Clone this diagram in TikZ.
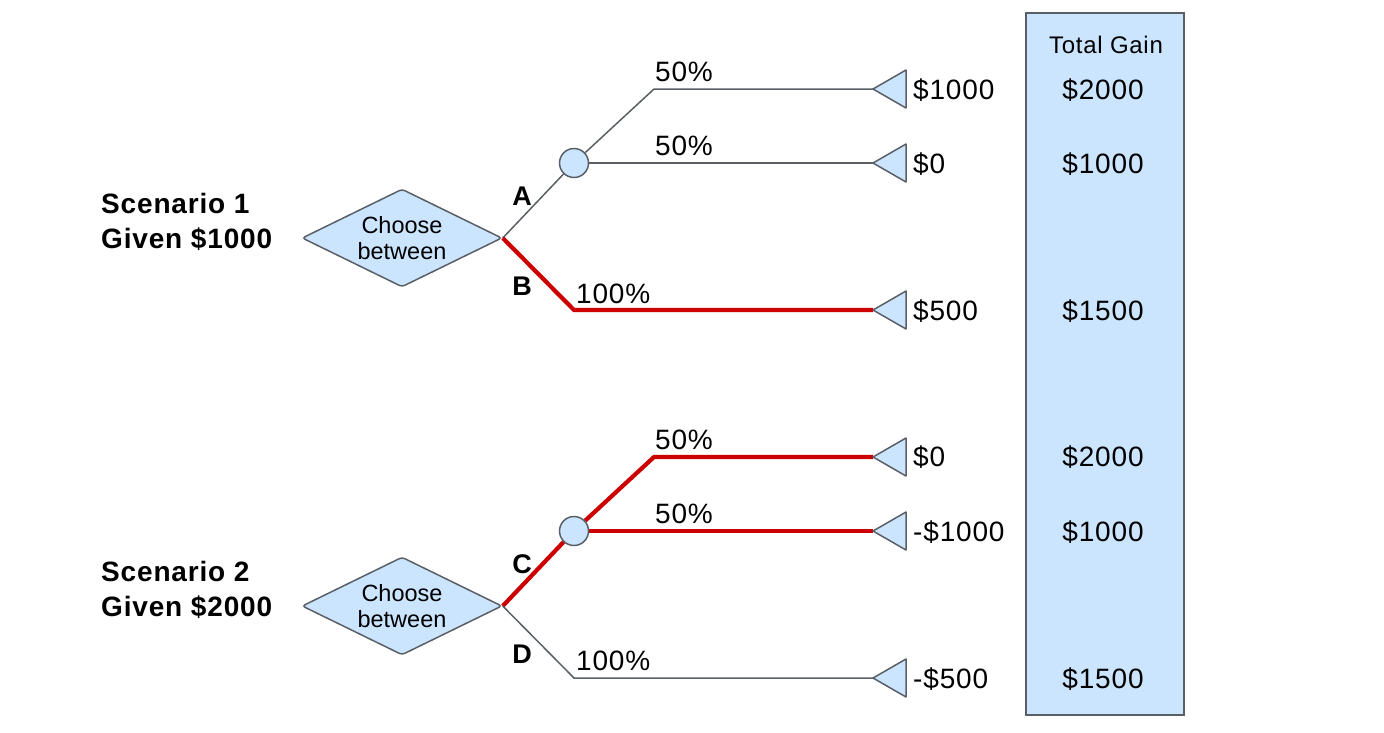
\documentclass[tikz,border=0pt]{standalone}
\usepackage{fontspec}
\setmainfont{Liberation Sans}
\newfontfamily\lsp[LetterSpace=3]{Liberation Sans}
\usetikzlibrary{shapes.geometric,backgrounds}
\definecolor{fillb}{HTML}{CCE5FF}
\definecolor{edgec}{HTML}{5A5F66}
\definecolor{redl}{HTML}{CC0000}
\tikzset{
  val/.style={anchor=base west, inner sep=0pt, font=\lsp\fontsize{28}{32}\selectfont},
  tot/.style={anchor=base, inner sep=0pt, font=\lsp\fontsize{28}{32}\selectfont},
  head/.style={anchor=base, inner sep=0pt, font=\lsp\fontsize{24}{28}\selectfont},
  pct/.style={anchor=base west, inner sep=0pt, font=\lsp\fontsize{28}{32}\selectfont},
  lett/.style={anchor=base, inner sep=0pt, font=\bfseries\fontsize{27}{30}\selectfont},
  scen/.style={anchor=base west, inner sep=0pt, font=\lsp\bfseries\fontsize{28}{32}\selectfont},
  choice/.style={diamond, draw=edgec, fill=fillb, line width=1.5, minimum width=200, minimum height=98, inner sep=0pt, aspect=2, rounded corners=3, align=center, font=\fontsize{23.5}{25.5}\selectfont},
  chance/.style={circle, draw=edgec, fill=fillb, line width=1.5, minimum size=29, inner sep=0pt},
  tri/.style={draw=edgec, fill=fillb, line width=1.5, line join=round},
  br/.style={draw=edgec, line width=1.5},
  hl/.style={draw=redl, line width=4.2},
  gbox/.style={draw=edgec, fill=fillb, line width=1.5, minimum width=158, minimum height=702, inner sep=0pt},
}
\begin{document}
\begin{tikzpicture}[x=1pt,y=-1pt]
\useasboundingbox (0,0) rectangle (1384,732);
% Total gain column
\node[gbox] (gain) at (1105,364) {};
\node[head] (gh) at (1106,53.5) {Total Gain};
% Scenario 1
\node[scen] (s1a) at (101,213.5) {Scenario 1};
\node[scen] (s1b) at (101,248.5) {Given \$1000};
\node[choice] (d1) at (402,238) {Choose\\between};
\node[chance] (c1) at (574,163) {};
\coordinate (k1) at (654,89);
\coordinate (k2) at (574,310);
\coordinate (t1) at (873,89);
\coordinate (t2) at (873,163);
\coordinate (t3) at (873,310);
% Scenario 2
\node[scen] (s2a) at (101,581.5) {Scenario 2};
\node[scen] (s2b) at (101,616.5) {Given \$2000};
\node[choice] (d2) at (402,606) {Choose\\between};
\node[chance] (c2) at (574,531) {};
\coordinate (k3) at (654,457);
\coordinate (k4) at (574,678);
\coordinate (t4) at (873,457);
\coordinate (t5) at (873,531);
\coordinate (t6) at (873,678);
\begin{pgfonlayer}{background}
\draw[br] (d1.east) -- (c1);
\draw[br] (c1) -- (k1) -- (t1);
\draw[br] (c1) -- (t2);
\draw[hl] (d1.east) -- (k2) -- (t3);
\draw[hl] (d2.east) -- (c2);
\draw[hl] (c2) -- (k3) -- (t4);
\draw[hl] (c2) -- (t5);
\draw[br] (d2.east) -- (k4) -- (t6);
\end{pgfonlayer}
% triangles
\foreach \tp in {t1,t2,t3,t4,t5,t6}{
  \draw[tri] (\tp) -- ++(33,-19) -- ++(0,38) -- cycle;
}
% branch letters
\node[lett] (la) at (522,205.5) {A};
\node[lett] (lb) at (522,295.5) {B};
\node[lett] (lc) at (522,573.5) {C};
\node[lett] (ld) at (522,663.5) {D};
% percentages
\node[pct] (p1) at (655,81.5) {50\%};
\node[pct] (p2) at (655,155.5) {50\%};
\node[pct] (p3) at (576,303.5) {100\%};
\node[pct] (p4) at (655,449.5) {50\%};
\node[pct] (p5) at (655,523.5) {50\%};
\node[pct] (p6) at (576,670.5) {100\%};
% outcomes
\node[val] (v1) at (913,99) {\$1000};
\node[val] (v2) at (913,173) {\$0};
\node[val] (v3) at (913,320) {\$500};
\node[val] (v4) at (913,466.5) {\$0};
\node[val] (v5) at (913,541) {-\$1000};
\node[val] (v6) at (913,688) {-\$500};
% totals
\node[tot] (g1) at (1103,99) {\$2000};
\node[tot] (g2) at (1103,173) {\$1000};
\node[tot] (g3) at (1103,320) {\$1500};
\node[tot] (g4) at (1103,466.5) {\$2000};
\node[tot] (g5) at (1103,541) {\$1000};
\node[tot] (g6) at (1103,688) {\$1500};
\end{tikzpicture}
\end{document}
